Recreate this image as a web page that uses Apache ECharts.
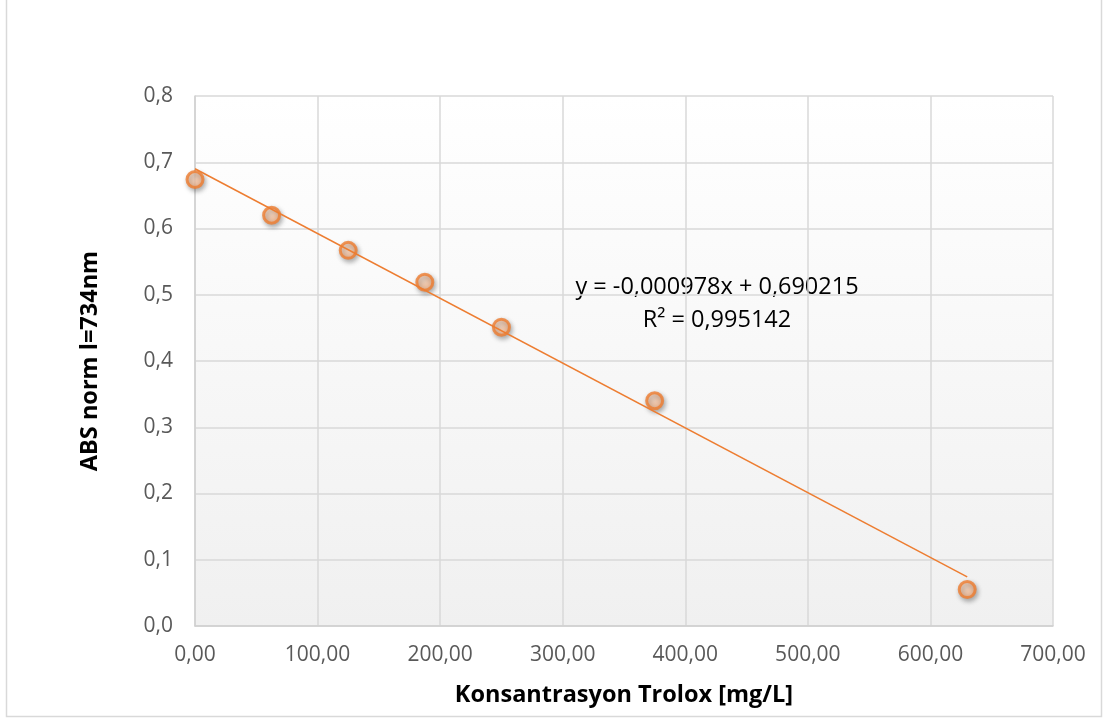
<!DOCTYPE html>
<html><head><meta charset="utf-8">
<script src="https://cdn.jsdelivr.net/npm/echarts@6/dist/echarts.min.js"></script>
<style>html,body{margin:0;padding:0;background:#fff}#c{width:1103px;height:718px}</style>
</head><body><div id="c"></div>
<script>
const concentrations = [0, 62.5, 125, 187.5, 250, 375, 630];
const absValues = [0.674, 0.620, 0.567, 0.519, 0.451, 0.340, 0.055];
const slope = -0.000978, intercept = 0.690215;
const trendX = [0, 630];
const eqText = 'y = -0,000978x + 0,690215';
const r2Text = 'R² = 0,995142';
const xTitle = 'Konsantrasyon Trolox [mg/L]';
const yTitle = 'ABS norm l=734nm';

const chart = echarts.init(document.getElementById('c'));
const FONT = '"Open Sans", "Liberation Sans", sans-serif';
chart.setOption({
  animation: false,
  graphic: [
    {type:'rect', shape:{x:6.5, y:-2, width:1095, height:718.5}, style:{fill:'none', stroke:'#D9D9D9', lineWidth:1.5}, z:-1},
    {type:'text', x:717, y:287, style:{text:eqText, font:'23.5px '+FONT, fill:'#000', textAlign:'center', textVerticalAlign:'middle'}},
    {type:'text', x:717, y:320, style:{text:r2Text, font:'23.5px '+FONT, fill:'#000', textAlign:'center', textVerticalAlign:'middle'}}
  ],
  grid: {left:195, right:50, top:96, bottom:92,
    show:true, borderWidth:0,
    backgroundColor:{type:'linear', x:0, y:0, x2:0, y2:1, colorStops:[{offset:0,color:'#FFFFFF'},{offset:1,color:'#F0F0F0'}]}},
  xAxis: {type:'value', min:0, max:700, interval:100,
    name:xTitle, nameLocation:'middle', nameGap:57,
    nameTextStyle:{fontFamily:FONT, fontSize:23.5, fontWeight:'bold', color:'#000'},
    axisLine:{show:true, lineStyle:{color:'#D0D0D0', width:1.5}}, axisTick:{show:false},
    axisLabel:{fontFamily:FONT, fontSize:21, color:'#595959', margin:19, formatter:v=>v.toFixed(2).replace('.',',')},
    splitLine:{show:true, lineStyle:{color:'#D9D9D9', width:1.5}}},
  yAxis: {type:'value', min:0, max:0.8, interval:0.1,
    name:yTitle, nameLocation:'middle', nameGap:93,
    nameTextStyle:{fontFamily:FONT, fontSize:23.5, fontWeight:'bold', color:'#000'},
    axisLine:{show:true, lineStyle:{color:'#D0D0D0', width:1.5}}, axisTick:{show:false},
    axisLabel:{fontFamily:FONT, fontSize:21, color:'#595959', margin:22, formatter:v=>v.toFixed(1).replace('.',',')},
    splitLine:{show:true, lineStyle:{color:'#D9D9D9', width:1.5}}},
  series: [
    {type:'scatter', data:concentrations.map((x,i)=>[x, absValues[i]]), symbolSize:16,
      itemStyle:{color:{type:'radial', x:0.4, y:0.35, r:0.75, colorStops:[{offset:0,color:'#FDDCC6'},{offset:1,color:'#F7AD7C'}]},
        borderColor:'#ED7D31', borderWidth:3, shadowColor:'rgba(0,0,0,0.35)', shadowBlur:5, shadowOffsetX:1.5, shadowOffsetY:2.5}, z:2},
    {type:'line', data:trendX.map(x=>[x, intercept + slope*x]), symbol:'none',
      lineStyle:{color:'#ED7D31', width:1.5}, z:3}
  ]
});
</script></body></html>
